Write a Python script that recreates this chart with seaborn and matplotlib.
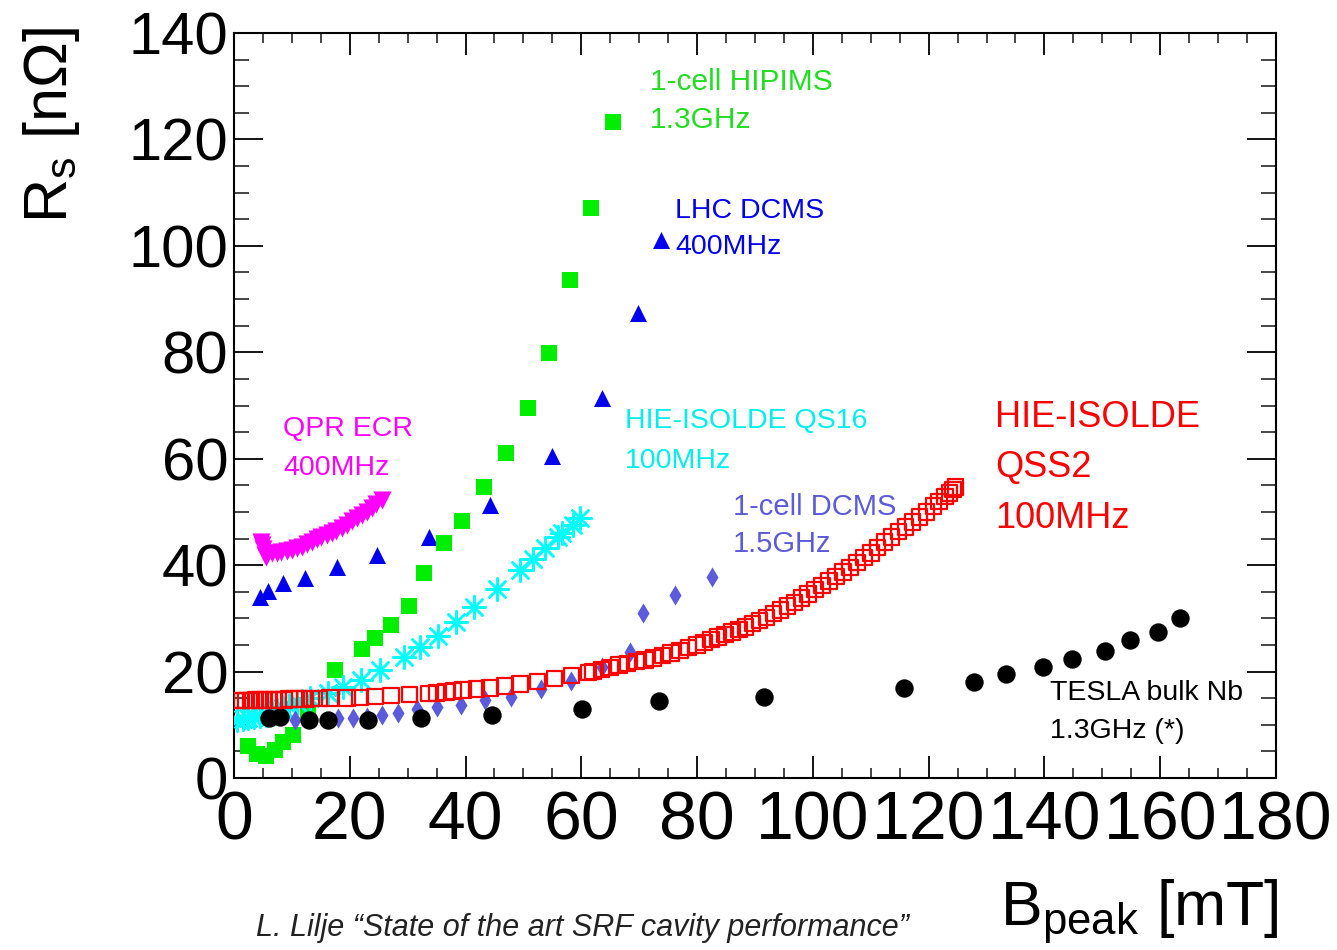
import numpy as np
import pandas as pd
import matplotlib
matplotlib.use("Agg")
import matplotlib.pyplot as plt
import seaborn as sns

# ---------------- data ----------------
# QPR ECR 400 MHz (magenta, down triangles)
qpr_x = [4.6, 4.8, 5.0, 5.3, 5.6, 6.5, 7.4, 8.2, 9.1, 10.0, 10.8, 11.7, 12.6, 13.4, 14.3,
         15.1, 16.0, 16.9, 17.7, 18.6, 19.5, 20.3, 21.2, 22.1, 22.9, 23.8, 24.6, 25.5]
qpr_y = [44.4, 43.8, 43.0, 42.0, 41.6, 42.2, 42.2, 42.4, 42.7, 42.8, 43.2, 43.5, 43.9, 44.4, 44.9,
         45.3, 45.7, 46.0, 46.4, 47.0, 47.6, 48.3, 48.9, 49.4, 50.0, 50.7, 51.4, 52.2]

# LHC DCMS 400 MHz (blue, up triangles)
lhc_x = [4.5, 5.9, 8.5, 12.3, 17.8, 24.7, 33.7, 44.2, 55.0, 63.6, 69.8, 73.8]
lhc_y = [34.0, 35.1, 36.6, 37.6, 39.7, 41.9, 45.2, 51.3, 60.5, 71.4, 87.4, 101.1]

# 1-cell HIPIMS 1.3 GHz (green, filled squares)
hip_x = [2.5, 4.0, 5.5, 7.0, 8.5, 10.2, 12.8, 17.4, 22.1, 24.4, 27.2, 30.2, 32.8, 36.2,
         39.3, 43.1, 47.0, 50.8, 54.5, 58.0, 61.7, 65.4]
hip_y = [6.0, 4.5, 4.2, 5.2, 6.8, 8.1, 12.8, 20.3, 24.2, 26.3, 28.7, 32.3, 38.5, 44.2,
         48.3, 54.7, 61.1, 69.6, 79.9, 93.5, 107.2, 123.2]

# HIE-ISOLDE QS16 100 MHz (cyan, asterisks)
qs16_x = [0.5, 1.5, 2.5, 3.5, 4.5, 5.5, 6.5, 7.5, 8.5, 9.5, 10.9, 13.1, 16.2, 18.8, 21.9,
          25.2, 29.4, 32.1, 35.2, 38.3, 41.5, 45.4, 49.4, 51.6, 53.7, 56.0, 56.7, 58.6, 59.8]
qs16_y = [10.9, 11.0, 11.2, 11.4, 11.6, 11.9, 12.3, 12.7, 13.1, 13.5, 14.3, 15.0, 16.0, 17.1, 18.4,
          20.3, 22.7, 24.6, 26.7, 29.3, 32.1, 35.5, 39.1, 41.2, 43.2, 45.3, 46.0, 47.5, 48.9]

# 1-cell DCMS 1.5 GHz (slate blue, thin diamonds)
dcms_x = [10.5, 18.0, 20.5, 22.9, 25.5, 28.3, 31.6, 35.1, 39.2, 43.4, 47.8, 53.1, 58.2,
          63.6, 68.4, 70.7, 76.2, 82.6]
dcms_y = [10.9, 11.3, 11.3, 11.5, 11.8, 12.2, 12.9, 13.3, 13.7, 14.6, 15.3, 16.7, 18.2,
          20.9, 23.7, 31.0, 34.4, 37.8]

# TESLA bulk Nb 1.3 GHz (black circles)
tesla_x = [6.0, 8.0, 13.0, 16.3, 23.1, 32.3, 44.5, 60.1, 73.4, 91.5, 115.7, 127.8, 133.4,
           139.7, 144.8, 150.4, 154.7, 159.6, 163.4]
tesla_y = [11.3, 11.5, 10.9, 10.9, 10.9, 11.2, 11.8, 12.9, 14.5, 15.3, 17.0, 18.1, 19.5,
           20.8, 22.4, 23.9, 25.9, 27.5, 30.0]

# HIE-ISOLDE QSS2 100 MHz (red, open squares)
qss2_x = [0.5, 1.3, 2.1, 2.9, 3.7, 4.5, 5.3, 6.1, 6.9, 7.7, 8.6, 9.5, 10.4, 11.3, 12.3, 13.4,
          14.7, 16.6, 19.5, 21.8, 24.4, 27.1, 30.3, 33.6, 35.0, 36.6, 37.9, 39.6, 41.9, 44.2,
          46.8, 49.4, 52.4, 55.4, 58.3, 61.2, 62.0, 63.5, 65.0, 66.5, 68.0, 69.5, 71.0, 72.5,
          74.0, 75.5, 77.0, 78.5, 80.0, 81.2, 82.4, 83.6, 84.8, 86.0, 87.2, 88.4, 89.6, 90.8,
          92.0, 93.2, 94.4, 95.6, 96.8, 98.0, 99.2, 100.4, 101.6, 102.8, 104.0, 105.2, 106.4,
          107.6, 108.8, 110.0, 111.2, 112.4, 113.6, 114.8, 116.0, 117.2, 118.4, 119.6, 120.8,
          121.8, 122.8, 123.6, 124.2, 124.6]
qss2_y = [14.6, 14.6, 14.6, 14.6, 14.7, 14.7, 14.7, 14.7, 14.7, 14.7, 14.7, 14.8, 14.8, 14.8,
          14.8, 14.9, 14.9, 15.0, 15.0, 15.1, 15.3, 15.5, 15.7, 15.9, 16.0, 16.2, 16.3, 16.5,
          16.7, 16.9, 17.3, 17.7, 18.1, 18.7, 19.3, 19.8, 20.0, 20.4, 20.8, 21.2, 21.5, 21.9,
          22.2, 22.6, 23.0, 23.5, 24.0, 24.5, 25.0, 25.5, 26.0, 26.5, 27.0, 27.4, 27.9, 28.4,
          29.0, 29.6, 30.2, 30.9, 31.6, 32.3, 33.0, 33.8, 34.6, 35.4, 36.2, 37.0, 37.9, 38.7,
          39.6, 40.5, 41.4, 42.3, 43.3, 44.3, 45.3, 46.3, 47.2, 48.1, 49.0, 50.0, 51.1, 52.0,
          52.9, 53.6, 54.2, 54.7]

x_ticks = [0, 20, 40, 60, 80, 100, 120, 140, 160, 180]
y_ticks = [0, 20, 40, 60, 80, 100, 120, 140]

# ---------------- style ----------------
sns.set_theme(style="ticks")
REG = ["Liberation Sans", "DejaVu Sans"]
plt.rcParams["font.family"] = REG
plt.rcParams["mathtext.fontset"] = "custom"
plt.rcParams["mathtext.rm"] = "Liberation Sans"
plt.rcParams["mathtext.it"] = "Liberation Sans:italic"

fig = plt.figure(figsize=(13.37, 9.5), dpi=100)
fig.patch.set_facecolor("white")
ax = fig.add_axes([0.17502, 0.18105, 0.77935, 0.78421])
ax.set_facecolor("white")

def df(x, y):
    return pd.DataFrame({"x": x, "y": y})

sns.scatterplot(data=df(qpr_x, qpr_y), x="x", y="y", ax=ax, marker="v", s=170,
                color="#ff00ff", linewidth=0, zorder=3)
sns.scatterplot(data=df(lhc_x, lhc_y), x="x", y="y", ax=ax, marker="^", s=150,
                color="#0000ee", linewidth=0, zorder=3)
sns.scatterplot(data=df(hip_x, hip_y), x="x", y="y", ax=ax, marker="s", s=140,
                color="#00ee00", linewidth=0, zorder=3)
sns.scatterplot(data=df(qs16_x, qs16_y), x="x", y="y", ax=ax, marker=(8, 2, 0), s=260,
                color="#00ffff", linewidth=1.8, zorder=4)
sns.scatterplot(data=df(dcms_x, dcms_y), x="x", y="y", ax=ax, marker="d", s=105,
                color="#5b5bdb", linewidth=0, zorder=4)
sns.scatterplot(data=df(tesla_x, tesla_y), x="x", y="y", ax=ax, marker="o", s=175,
                color="black", linewidth=0, zorder=5)
sns.scatterplot(data=df(qss2_x, qss2_y), x="x", y="y", ax=ax, marker="s", s=125,
                color="#ff0000", linewidth=1.6, zorder=6)
red = ax.collections[-1]
red.set_facecolor("none")
red.set_edgecolor("#ff0000")
red.set_linewidth(1.6)

ax.set_xlim(0, 180)
ax.set_ylim(0, 140)
ax.set_xticks(x_ticks)
ax.set_yticks(y_ticks)
ax.set_xticks(np.arange(0, 181, 5), minor=True)
ax.set_yticks(np.arange(0, 141, 5), minor=True)
ax.set_xlabel("")
ax.set_ylabel("")

for sp in ax.spines.values():
    sp.set_visible(True)
    sp.set_linewidth(1.5)
    sp.set_color("black")

ax.tick_params(axis="x", which="major", direction="in", length=16, width=1.3,
               top=True, bottom=True, pad=8, labelsize=49, colors="black")
ax.tick_params(axis="x", which="minor", direction="in", length=7.5, width=1.2,
               top=True, bottom=True)
ax.tick_params(axis="y", which="major", direction="in", length=21, width=1.3,
               left=True, right=True, pad=4, labelsize=43, colors="black")
ax.tick_params(axis="y", which="minor", direction="in", length=11, width=1.2,
               left=True, right=True)
ax.set_xticklabels([str(v) for v in x_ticks])
ax.set_yticklabels([str(v) for v in y_ticks])

# series annotations
def lab(x, y, s, c, size=20.5):
    ax.text(x, y, s, color=c, fontsize=size, family=REG, ha="left", va="center",
            zorder=7)

lab(71.9, 130.8, "1-cell HIPIMS", "#22dd22", 21.5)
lab(71.9, 123.6, "1.3GHz", "#22dd22", 21.5)
lab(76.2, 106.6, "LHC DCMS", "#0000ee")
lab(76.2, 99.7, "400MHz", "#0000ee")
lab(8.5, 65.5, "QPR ECR", "#ff00ff")
lab(8.5, 58.3, "400MHz", "#ff00ff")
lab(67.5, 67.0, "HIE-ISOLDE QS16", "#00eeee")
lab(67.5, 59.6, "100MHz", "#00eeee")
lab(86.2, 51.0, "1-cell DCMS", "#5b5bdb", 21)
lab(86.2, 44.0, "1.5GHz", "#5b5bdb", 21)
lab(131.5, 67.7, "HIE-ISOLDE", "#ff0000", 26)
lab(131.5, 58.3, "QSS2", "#ff0000", 26)
lab(131.5, 48.7, "100MHz", "#ff0000", 26)
lab(141.0, 16.0, "TESLA bulk Nb", "black", 20.5)
lab(141.0, 8.8, "1.3GHz (*)", "black", 20.5)

# axis titles
fig.text(1279 / 1337, 1 - 925 / 950, r"B$_{\mathrm{peak}}$ [mT]", ha="right",
         va="baseline", fontsize=45, family=REG, color="black")
fig.text(52 / 1337, 1 - 125 / 950, r"R$_{\mathrm{s}}$ [nΩ]", ha="center", va="center",
         rotation=90, fontsize=44, family=REG, color="black")
fig.text(582 / 1337, 1 - 928 / 950, "L. Lilje \u201cState of the art SRF cavity performance\u201d",
         ha="center", va="center", fontsize=22, family=REG, style="italic", color="#222222")

fig.savefig("out.png", dpi=100, facecolor="white")
